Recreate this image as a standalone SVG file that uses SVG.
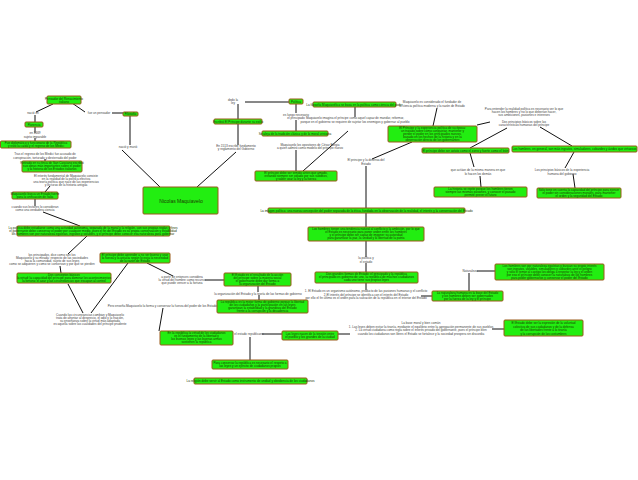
<svg xmlns="http://www.w3.org/2000/svg" width="638" height="480" viewBox="0 0 638 480">
<style>
.b{fill:#22ee11;stroke:#9a5a1a;stroke-width:1}
.t{font-family:"Liberation Sans",Arial,sans-serif;font-size:3.1px;fill:#1a3a00;text-anchor:middle}
.l{font-family:"Liberation Sans",Arial,sans-serif;font-size:3.1px;fill:#444;text-anchor:middle}
.c line,.c polyline{stroke:#111;stroke-width:1;fill:none}
</style>
<rect width="638" height="480" fill="#fff"/>
<g class="c">
<line x1="53" y1="104" x2="36" y2="112"/><line x1="35" y1="115" x2="35" y2="122"/><line x1="35" y1="127" x2="35" y2="133"/><line x1="35" y1="138" x2="35" y2="141"/>
<line x1="45" y1="159" x2="45" y2="161"/><line x1="50" y1="186" x2="45" y2="192"/><line x1="35" y1="199" x2="35" y2="206"/><line x1="43" y1="212" x2="80" y2="226"/>
<line x1="72" y1="103" x2="85" y2="112"/><line x1="112" y1="113" x2="123" y2="113"/><line x1="130" y1="116" x2="130" y2="145"/><line x1="122" y1="150" x2="160" y2="187"/>
<line x1="87" y1="236" x2="68" y2="254"/><line x1="60" y1="266" x2="61" y2="273"/><line x1="68" y1="284" x2="83" y2="313"/><line x1="128" y1="263" x2="91" y2="313"/><line x1="147" y1="263" x2="173" y2="276"/>
<line x1="205" y1="280" x2="224" y2="280"/><line x1="258" y1="286" x2="258" y2="292"/><line x1="259" y1="295" x2="259" y2="300"/>
<line x1="163" y1="308" x2="159" y2="331"/>
<line x1="245" y1="102" x2="290" y2="102"/><line x1="238" y1="104" x2="238" y2="119"/><line x1="238" y1="124" x2="238" y2="145"/><line x1="236" y1="152" x2="197" y2="187"/>
<line x1="296" y1="104" x2="296" y2="113"/><line x1="296" y1="120" x2="296" y2="131"/><line x1="296" y1="150" x2="296" y2="171"/>
<line x1="355" y1="107" x2="355" y2="117"/><line x1="348" y1="131" x2="303" y2="171"/>
<line x1="437" y1="108" x2="433" y2="126"/><line x1="490" y1="122" x2="477" y2="125"/><line x1="507" y1="128" x2="470" y2="148"/><line x1="540" y1="127" x2="572" y2="146"/>
<line x1="574" y1="152" x2="565" y2="168"/><line x1="573" y1="174" x2="575" y2="188"/>
<line x1="470" y1="153" x2="474" y2="167"/><line x1="480" y1="176" x2="481" y2="187"/>
<line x1="412" y1="142" x2="372" y2="159"/><line x1="366" y1="166" x2="366" y2="208"/>
<line x1="366" y1="213" x2="366" y2="227"/><line x1="366" y1="241" x2="366" y2="257"/><line x1="366" y1="263" x2="366" y2="272"/><line x1="366" y1="283" x2="366" y2="290"/>
<line x1="421" y1="296" x2="432" y2="296"/><line x1="469" y1="291" x2="469" y2="273"/><line x1="477" y1="271" x2="495" y2="271"/>
<line x1="492" y1="329" x2="504" y2="329"/><line x1="338" y1="334" x2="350" y2="334"/><line x1="262" y1="334" x2="282" y2="334"/><line x1="250" y1="337" x2="250" y2="360"/>
</g>
<g id="n1"><rect class="b" x="47" y="96" width="34" height="8" rx="1"/><text class="t" x="64" y="99.5">Pensador del Renacimiento</text><text class="t" x="64" y="103">italiano</text></g>
<text class="l" x="33" y="114">nació en</text>
<g id="n2"><rect class="b" x="25" y="122" width="18" height="5" rx="1"/><text class="t" x="34" y="125.5">Florencia</text></g>
<text class="l" x="35" y="134">en 1469</text><text class="l" x="35" y="137.5">sujeto imparable</text>
<g id="n3"><rect class="b" x="0.5" y="141" width="70.5" height="7" rx="1"/><text class="t" x="36" y="144">Fue diplomático y funcionario de la República</text><text class="t" x="36" y="147">y vivió la caída y el regreso de los Medici</text></g>
<text class="l" x="45" y="155">Tras el regreso de los Medici fue acusado de</text><text class="l" x="45" y="158.5">conspiración, torturado y desterrado del poder</text>
<g id="n4"><rect class="b" x="22" y="161" width="60" height="11" rx="1"/><text class="t" x="52" y="164">Retirado en su finca de San Casciano escribió</text><text class="t" x="52" y="167">sus obras más importantes sobre el poder</text><text class="t" x="52" y="170">y la historia de los Estados italianos</text></g>
<text class="l" x="66" y="177">El interés fundamental de Maquiavelo consiste</text><text class="l" x="66" y="180">en la realidad de la política efectiva</text><text class="l" x="66" y="183">una teoría política que nace de las experiencias</text><text class="l" x="66" y="186">y lecturas de la historia antigua</text>
<g id="n5"><rect class="b" x="12" y="192" width="46" height="7" rx="1"/><text class="t" x="35" y="195">Maquiavelo busca un Estado fuerte</text><text class="t" x="35" y="198">para la unificación de Italia</text></g>
<text class="l" x="35" y="208">cuando sus lectores lo consideran</text><text class="l" x="35" y="211">como una verdadera ciencia</text>
<g id="n6"><rect class="b" x="17" y="226" width="153" height="10" rx="1"/><text class="t" x="93" y="229">La política debe estudiarse como una actividad autónoma, separada de la moral y la religión, con sus propias reglas y fines</text><text class="t" x="93" y="232">el gobernante debe conservar el poder por cualquier medio, pues el fin del Estado es su propia conservación y estabilidad</text><text class="t" x="93" y="235">los hombres son por naturaleza egoístas, ingratos y volubles, y el príncipe debe conocer esa naturaleza para gobernar</text></g>
<text class="l" x="52" y="256">los principados, dice como son los</text><text class="l" x="52" y="259">Maquiavelo y su mirada: respecto de las sociedades</text><text class="l" x="52" y="262">hacia la comunidad, sujeto de sus leyes</text><text class="l" x="52" y="265">como se adquieren y como se conservan y por qué se pierden</text>
<g id="n7"><rect class="b" x="100" y="253" width="70" height="10" rx="1"/><text class="t" x="135" y="256">El príncipe debe aprender a no ser bueno y usar</text><text class="t" x="135" y="259">la fuerza y la astucia según lo exija la necesidad</text><text class="t" x="135" y="262">de la razón de Estado</text></g>
<g id="n8"><rect class="b" x="17" y="273" width="94" height="10" rx="1"/><text class="t" x="64" y="276">Dos conceptos básicos</text><text class="t" x="64" y="279">la virtud: la capacidad del príncipe para dominar los acontecimientos</text><text class="t" x="64" y="282">la fortuna: el azar y las circunstancias que escapan al control</text></g>
<text class="l" x="182" y="278">a partir de entonces considera</text><text class="l" x="182" y="281">la virtud del hombre como recurso</text><text class="l" x="182" y="284">que puede vencer a la fortuna</text>
<text class="l" x="163" y="307">Pero enseña Maquiavelo la forma y conservar la fuerza del poder de los Estados</text>
<text class="l" x="90" y="316">Cuando las circunstancias cambian y Maquiavelo</text><text class="l" x="90" y="319">trata de afrontar al desprecio, el odio y la traición,</text><text class="l" x="90" y="322">su enseñanza sobre la virtud más adaptada</text><text class="l" x="90" y="325">es aquella sobre las cualidades del príncipe prudente</text>
<text class="l" x="99" y="114">fue un pensador</text>
<g id="n9"><rect class="b" x="123" y="112" width="15" height="4" rx="1"/><text class="t" x="130.5" y="115">Filosofía</text></g>
<text class="l" x="128" y="148">nació y murió</text>
<g id="main"><rect class="b" x="143" y="187" width="75" height="27" rx="1"/><text x="181" y="203" font-family="Liberation Sans,Arial,sans-serif" font-size="5" fill="#1a3a00" text-anchor="middle">Nicolas Maquiavelo</text></g>
<text class="l" x="233" y="101">dedo la</text><text class="l" x="233" y="104">ley</text>
<g id="n10"><rect class="b" x="289" y="99" width="14" height="5" rx="1"/><text class="t" x="296" y="102.5">Política</text></g>
<g id="n11"><rect class="b" x="214" y="119" width="48" height="5" rx="1"/><text class="t" x="238" y="122.5">Escribió El Príncipe durante su exilio</text></g>
<text class="l" x="236" y="147">En 1513 escribe fundamento</text><text class="l" x="236" y="150">y reglamento del Gobierno</text>
<text class="l" x="296" y="116">es luego necesario</text><text class="l" x="296" y="119">el principado</text>
<g id="n12"><rect class="b" x="262" y="131" width="66" height="5" rx="1"/><text class="t" x="295" y="134.5">Se aleja de la tradición clásica y de la moral cristiana</text></g>
<text class="l" x="310" y="146">Maquiavelo los opositores de César Borgia</text><text class="l" x="310" y="149">a quien admiró como modelo del príncipe nuevo</text>
<g id="n13"><rect class="b" x="313" y="102" width="83" height="5" rx="1"/><text class="t" x="354.5" y="105.5">La filosofía Maquiavélica se basa en la política como ciencia del poder</text></g>
<text class="l" x="355" y="119">Maquiavelo imagina el príncipe como aquel capaz de mandar, reformar,</text><text class="l" x="355" y="122.5">porque en el gobierno se requiere de sujetar los enemigos y gobernar al pueblo</text>
<g id="n14"><rect class="b" x="255" y="171" width="82" height="10" rx="1"/><text class="t" x="296" y="174">El príncipe debe ser temido antes que amado,</text><text class="t" x="296" y="177">evitando siempre ser odiado por sus súbditos,</text><text class="t" x="296" y="180">y saber usar la ley y la fuerza</text></g>
<text class="l" x="432" y="103">Maquiavelo es considerado el fundador de</text><text class="l" x="432" y="106.5">la ciencia política moderna y la razón de Estado</text>
<g id="n15"><rect class="b" x="388" y="126" width="89" height="16" rx="1"/><text class="t" x="432.5" y="129">El Príncipe y la experiencia política de su época:</text><text class="t" x="432.5" y="132">un tratado sobre cómo conquistar, mantener y</text><text class="t" x="432.5" y="135">perder el poder en los principados nuevos,</text><text class="t" x="432.5" y="138">basado en los hechos de la historia y en la</text><text class="t" x="432.5" y="141">observación directa de los gobernantes</text></g>
<text class="l" x="524" y="110">Para entender la realidad política es necesario ver lo que</text><text class="l" x="524" y="113">hacen los hombres y no lo que deberían hacer,</text><text class="l" x="524" y="116">sus ambiciones, pasiones e intereses</text>
<text class="l" x="524" y="123">Dos principios básicos sobre las</text><text class="l" x="524" y="126">características humanas del príncipe</text>
<g id="n16"><rect class="b" x="422" y="148" width="87" height="5" rx="1"/><text class="t" x="465.5" y="151.5">El príncipe debe ser astuto como el zorro y fuerte como el león</text></g>
<g id="n18"><rect class="b" x="512" y="146" width="125" height="6" rx="1"/><text class="t" x="574.5" y="150">Los hombres, en general, son más ingratos, simuladores, cobardes y ávidos que virtuosos</text></g>
<text class="l" x="478" y="171">que actúan de la misma manera en que</text><text class="l" x="478" y="174.5">lo hacen los demás</text>
<g id="n17"><rect class="b" x="434" y="187" width="93" height="10" rx="1"/><text class="t" x="480.5" y="190">La historia se repite porque los hombres tienen</text><text class="t" x="480.5" y="193">siempre las mismas pasiones, y conocer el pasado</text><text class="t" x="480.5" y="196">permite prever el futuro</text></g>
<text class="l" x="562" y="171">Los principios básicos de la experiencia</text><text class="l" x="562" y="174.5">humana del gobierno</text>
<g id="n19"><rect class="b" x="537" y="188" width="84" height="10" rx="1"/><text class="t" x="579" y="191">Sólo tiene en cuenta la capacidad del príncipe para ejercer</text><text class="t" x="579" y="194">el poder sin consideraciones morales, para mantener</text><text class="t" x="579" y="197">el orden y la seguridad del Estado</text></g>
<text class="l" x="366" y="161">El principe y la defensa del</text><text class="l" x="366" y="164.5">Estado</text>
<g id="n20"><rect class="b" x="268" y="208" width="197" height="5" rx="1"/><text class="t" x="366.5" y="211.5">La imagen política: una nueva concepción del poder separada de la ética, fundada en la observación de la realidad, el interés y la conservación del Estado</text></g>
<g id="n21"><rect class="b" x="308" y="227" width="116" height="14" rx="1"/><text class="t" x="366" y="230">Los hombres tienen una tendencia natural al conflicto y la ambición, por lo que</text><text class="t" x="366" y="233">el Estado es necesario para poner orden entre los hombres</text><text class="t" x="366" y="236">y el príncipe debe ser capaz de imponer su autoridad</text><text class="t" x="366" y="239">para garantizar la paz, la unidad y la libertad de la patria</text></g>
<text class="l" x="366" y="259">la política y</text><text class="l" x="366" y="262.5">el estado</text>
<g id="n22"><rect class="b" x="315" y="272" width="103" height="11" rx="1"/><text class="t" x="366.5" y="275">Dos grandes formas de Estado: el principado y la república</text><text class="t" x="366.5" y="278">el principado es gobierno de uno, la república de muchos ciudadanos</text><text class="t" x="366.5" y="281">cada uno tiene sus propias leyes</text></g>
<text class="l" x="366" y="292">1. El Estado es un organismo autónomo, producto de las pasiones humanas y el conflicto</text><text class="l" x="366" y="295.5">2.El interés del príncipe se identifica con el interés del Estado</text><text class="l" x="366" y="299">por ello el fin último es el orden para la salvación de la república en el interior del Estado</text>
<g id="n25"><rect class="b" x="432" y="291" width="71" height="10" rx="1"/><text class="t" x="467.5" y="294">La naturaleza humana es la base del Estado</text><text class="t" x="467.5" y="297">y los hombres deben ser gobernados</text><text class="t" x="467.5" y="300">por la fuerza de la ley y el príncipe</text></g>
<text class="l" x="470" y="272">Naturaleza</text>
<g id="n26"><rect class="b" x="495" y="264" width="109" height="16" rx="1"/><text class="t" x="549.5" y="267">Los hombres son por naturaleza egoístas y buscan su propio interés</text><text class="t" x="549.5" y="270">son ingratos, volubles, simuladores y cobardes ante el peligro</text><text class="t" x="549.5" y="273">y sólo el temor al castigo los obliga a respetar la ley y el orden</text><text class="t" x="549.5" y="276">por eso el príncipe debe conocer la naturaleza de los hombres</text><text class="t" x="549.5" y="279">para poder gobernarlos y conservar el poder del Estado</text></g>
<g id="n23"><rect class="b" x="224" y="273" width="67" height="13" rx="1"/><text class="t" x="257.5" y="276">El Estado es el resultado de la acción</text><text class="t" x="257.5" y="279">del príncipe sobre la materia social</text><text class="t" x="257.5" y="282">el gobernante debe dar forma a</text><text class="t" x="257.5" y="285">la organización del Estado</text></g>
<text class="l" x="258" y="295">la organización del Estado y la teoría de las formas de gobierno</text>
<g id="n24"><rect class="b" x="217" y="300" width="91" height="13" rx="1"/><text class="t" x="262.5" y="303">La república es la mejor forma de gobierno porque la libertad</text><text class="t" x="262.5" y="306">de los ciudadanos y la participación en las leyes</text><text class="t" x="262.5" y="309">garantizan la estabilidad y la grandeza del Estado</text><text class="t" x="262.5" y="312">frente a la corrupción y la decadencia</text></g>
<g id="n28"><rect class="b" x="160" y="331" width="73" height="14" rx="1"/><text class="t" x="196.5" y="334">En la república la virtud de los ciudadanos</text><text class="t" x="196.5" y="337">es el fundamento de la libertad y</text><text class="t" x="196.5" y="340">las buenas leyes y las buenas armas</text><text class="t" x="196.5" y="343">sostienen la república</text></g>
<text class="l" x="249" y="335">el estado republicano</text>
<g id="n29"><rect class="b" x="282" y="331" width="56" height="9" rx="1"/><text class="t" x="310" y="334.5">Las leyes nacen de la tensión entre</text><text class="t" x="310" y="338">el pueblo y los grandes de la ciudad</text></g>
<text class="l" x="421" y="324">La base moral y bien común</text><text class="l" x="421" y="327.5">1. Las leyes deben evitar la tiranía, mediante el equilibrio entre la agregación permanente de sus pueblos</text><text class="l" x="421" y="331">2. La virtud ciudadana como regla sobre el interés privado del gobernante, pues el príncipe bien</text><text class="l" x="421" y="334.5">cuando los ciudadanos son libres el Estado se fortalece y la sociedad prospera sin discordia</text>
<g id="n27"><rect class="b" x="504" y="320" width="79" height="16" rx="1"/><text class="t" x="543.5" y="324">El Estado debe ser la expresión de la voluntad</text><text class="t" x="543.5" y="327.5">colectiva de sus ciudadanos y de la defensa</text><text class="t" x="543.5" y="331">de las libertades frente a la tiranía</text><text class="t" x="543.5" y="334.5">y la corrupción de las costumbres</text></g>
<g id="n30"><rect class="b" x="212" y="360" width="76" height="9" rx="1"/><text class="t" x="250" y="363.5">Para conservar la república es necesario el respeto a</text><text class="t" x="250" y="367">las leyes y un ejército de ciudadanos propios</text></g>
<g id="n31"><rect class="b" x="194" y="378" width="113" height="6" rx="1"/><text class="t" x="250.5" y="382">La religión debe servir al Estado como instrumento de unidad y obediencia de los ciudadanos</text></g>
</svg>
